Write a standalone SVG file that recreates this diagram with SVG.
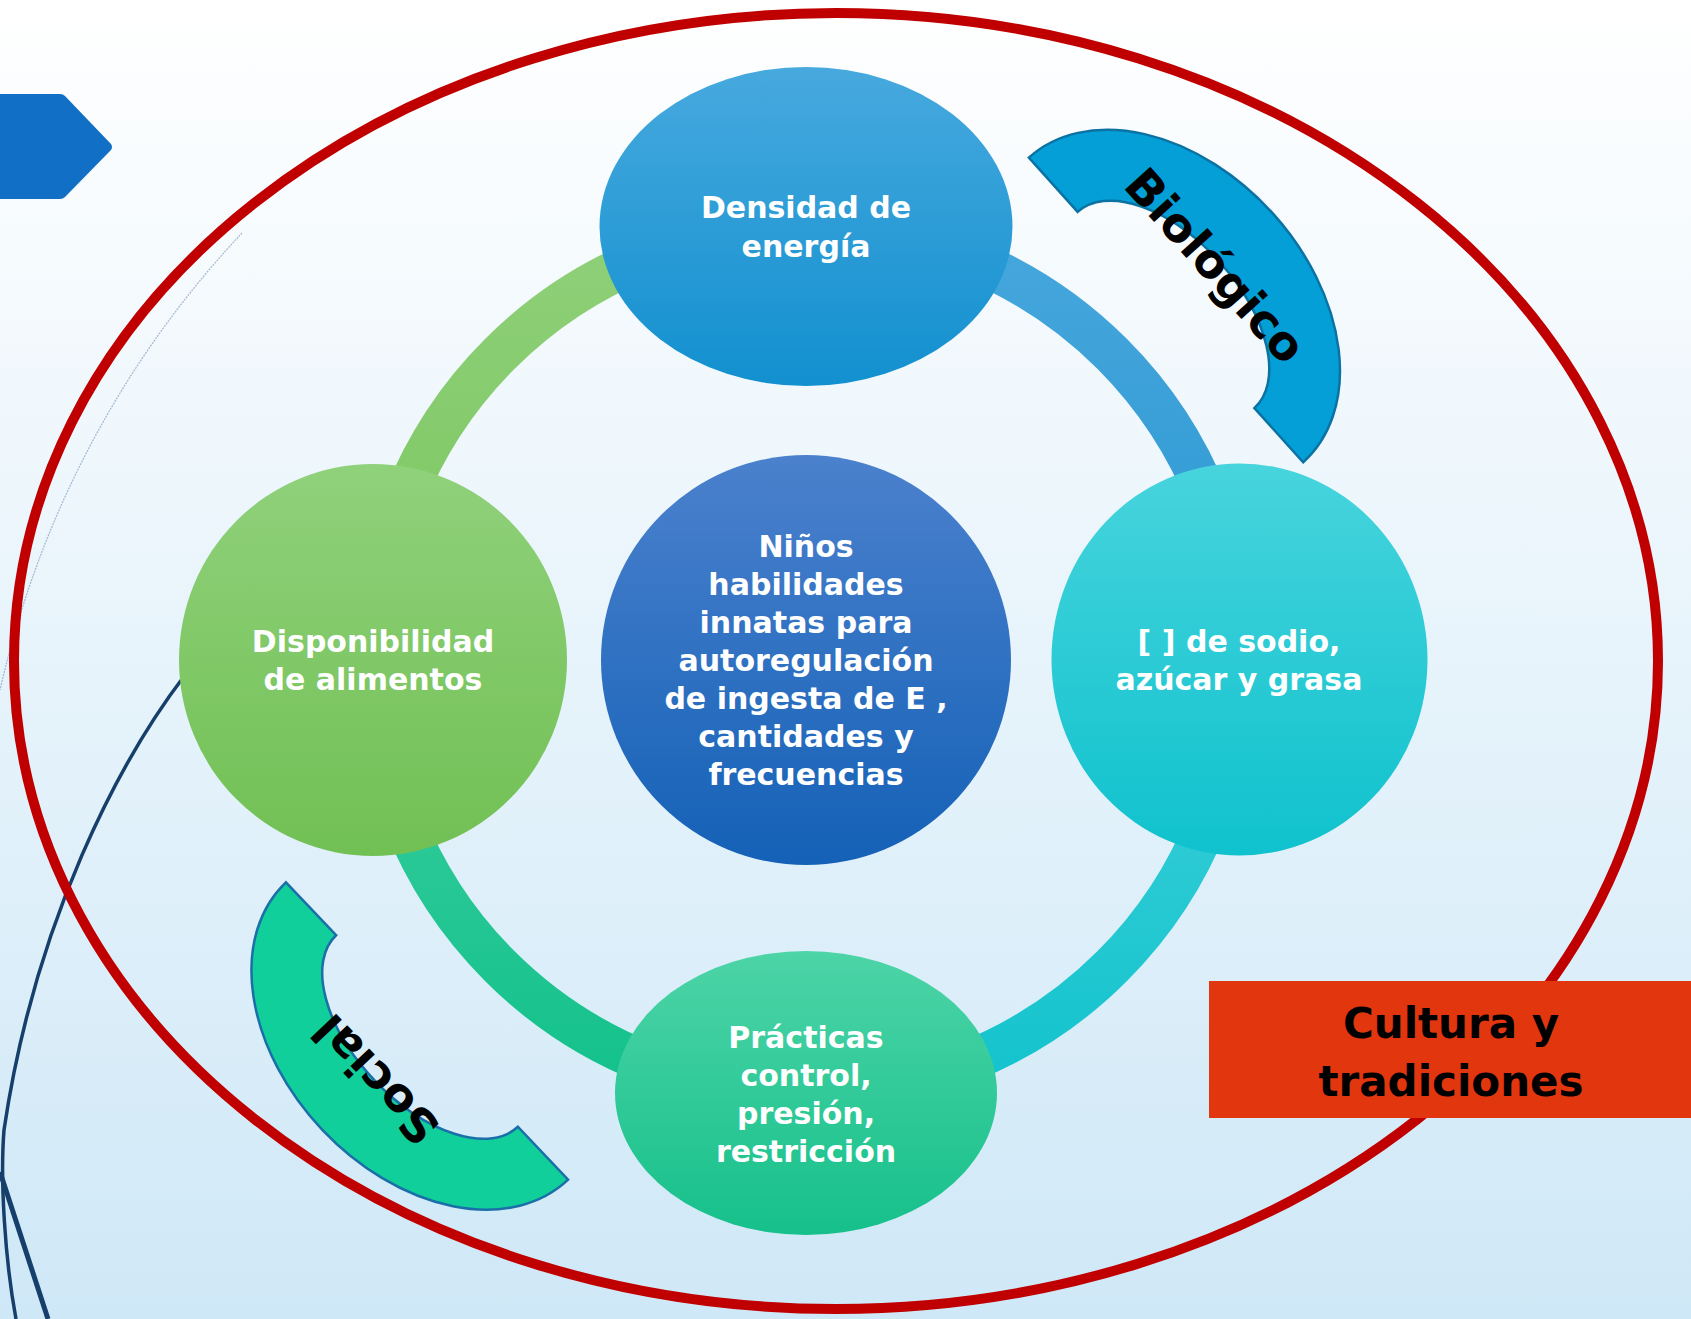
<svg xmlns="http://www.w3.org/2000/svg" width="1691" height="1319" viewBox="0 0 1691 1319">
<defs>
<linearGradient id="bg" x1="0" y1="0" x2="0" y2="1319" gradientUnits="userSpaceOnUse"><stop offset="0" stop-color="#FFFFFF"/><stop offset="1" stop-color="#CFE8F7"/></linearGradient>
<linearGradient id="gTop" x1="0" y1="67" x2="0" y2="386" gradientUnits="userSpaceOnUse"><stop offset="0" stop-color="#47A9DE"/><stop offset="1" stop-color="#1290CF"/></linearGradient>
<linearGradient id="gLeft" x1="0" y1="464" x2="0" y2="856" gradientUnits="userSpaceOnUse"><stop offset="0" stop-color="#90D17B"/><stop offset="1" stop-color="#71C054"/></linearGradient>
<linearGradient id="gRight" x1="0" y1="464" x2="0" y2="856" gradientUnits="userSpaceOnUse"><stop offset="0" stop-color="#47D4DD"/><stop offset="1" stop-color="#0FC2CD"/></linearGradient>
<linearGradient id="gBot" x1="0" y1="951" x2="0" y2="1235" gradientUnits="userSpaceOnUse"><stop offset="0" stop-color="#4DD4A7"/><stop offset="1" stop-color="#16C08A"/></linearGradient>
<linearGradient id="gCen" x1="0" y1="455" x2="0" y2="865" gradientUnits="userSpaceOnUse"><stop offset="0" stop-color="#4B81CD"/><stop offset="1" stop-color="#1461B7"/></linearGradient>
<linearGradient id="sGreen" x1="0" y1="227" x2="0" y2="660" gradientUnits="userSpaceOnUse"><stop offset="0" stop-color="#8FD079"/><stop offset="1" stop-color="#7AC65F"/></linearGradient>
<linearGradient id="sBlue" x1="0" y1="227" x2="0" y2="660" gradientUnits="userSpaceOnUse"><stop offset="0" stop-color="#46A7DC"/><stop offset="1" stop-color="#2C97D2"/></linearGradient>
<linearGradient id="sCyan" x1="0" y1="660" x2="0" y2="1093" gradientUnits="userSpaceOnUse"><stop offset="0" stop-color="#3FD0D9"/><stop offset="1" stop-color="#12C3CD"/></linearGradient>
<linearGradient id="sTeal" x1="0" y1="660" x2="0" y2="1093" gradientUnits="userSpaceOnUse"><stop offset="0" stop-color="#3ACE9E"/><stop offset="1" stop-color="#13C18B"/></linearGradient>
</defs>
<style>
.nt{font-family:"DejaVu Sans",sans-serif;font-weight:bold;font-size:30px;fill:#FFFFFF;text-anchor:middle}
.arcl{font-family:"DejaVu Sans",sans-serif;font-weight:bold;font-size:47px;fill:#000000;text-anchor:middle}
.ring{fill:none;stroke-width:42}
.deco{fill:none;stroke:#163F6B}
</style>
<rect x="0" y="0" width="1691" height="1319" fill="url(#bg)"/>
<g id="decor">
<path d="M0,94 L60,94 Q63,94 65,96 L111,144 Q113,147 111,150 L65,197 Q63,199 60,199 L0,199 Z" fill="#1170C5"/>
<path d="M242,233 C160,320 50,470 0,690" fill="none" stroke="#8FA8C4" stroke-width="1.2" stroke-dasharray="2 1" opacity="0.8"/>
<path class="deco" d="M185,675 C120,760 35,920 4,1130 C0,1180 5,1260 16,1319" stroke-width="3.5"/>
<path class="deco" d="M0,1172 L48,1319" stroke-width="5"/>
</g>
<g id="cultura-ellipse">
<ellipse cx="836" cy="661" rx="822" ry="648" fill="none" stroke="#C00000" stroke-width="10"/>
</g>
<g id="connectors">
<path class="ring" stroke="url(#sGreen)" d="M373,660 A433,433 0 0 1 806,227"/>
<path class="ring" stroke="url(#sBlue)" d="M806,227 A433,433 0 0 1 1239,660"/>
<path class="ring" stroke="url(#sCyan)" d="M1239,660 A433,433 0 0 1 806,1093"/>
<path class="ring" stroke="url(#sTeal)" d="M806,1093 A433,433 0 0 1 373,660"/>
</g>
<g id="node-densidad">
<ellipse cx="806" cy="226.5" rx="206.5" ry="159.5" fill="url(#gTop)"/>
<text class="nt" x="806" y="218">Densidad de</text>
<text class="nt" x="806" y="257">energía</text>
</g>
<g id="node-disponibilidad">
<ellipse cx="373" cy="660" rx="194" ry="196" fill="url(#gLeft)"/>
<text class="nt" x="373" y="652">Disponibilidad</text>
<text class="nt" x="373" y="690">de alimentos</text>
</g>
<g id="node-sodio">
<ellipse cx="1239.5" cy="659.5" rx="188" ry="196" fill="url(#gRight)"/>
<text class="nt" x="1239" y="652">[ ] de sodio,</text>
<text class="nt" x="1239" y="690">azúcar y grasa</text>
</g>
<g id="node-practicas">
<ellipse cx="806" cy="1093" rx="191" ry="142" fill="url(#gBot)"/>
<text class="nt" x="806" y="1048">Prácticas</text>
<text class="nt" x="806" y="1086">control,</text>
<text class="nt" x="806" y="1124">presión,</text>
<text class="nt" x="806" y="1162">restricción</text>
</g>
<g id="node-ninos">
<circle cx="806" cy="660" r="205" fill="url(#gCen)"/>
<text class="nt" x="806" y="557">Niños</text>
<text class="nt" x="806" y="595">habilidades</text>
<text class="nt" x="806" y="633">innatas para</text>
<text class="nt" x="806" y="671">autoregulación</text>
<text class="nt" x="806" y="709">de ingesta de E ,</text>
<text class="nt" x="806" y="747">cantidades y</text>
<text class="nt" x="806" y="785">frecuencias</text>
</g>
<g id="node-biologico" transform="translate(1166,310) rotate(48)">
<path d="M-205,0 A205,144 0 0 1 205,0 L132,0 A132,72 0 0 0 -132,0 Z" fill="#039FD6" stroke="#0B72A3" stroke-width="2.5"/>
<text class="arcl" x="0" y="-50">Biológico</text>
</g>
<g id="node-social" transform="translate(427,1031) rotate(46.5)">
<path d="M-205,0 A205,144 0 0 0 205,0 L132,0 A132,72 0 0 1 -132,0 Z" fill="#10CF9A" stroke="#1A6FA8" stroke-width="2.5"/>
<text class="arcl" transform="rotate(180)" x="0" y="-54">Social</text>
</g>
<g id="node-cultura">
<rect x="1209" y="981" width="482" height="137" fill="#E2360F"/>
<text class="arcl" x="1451" y="1038" style="font-size:42px">Cultura y</text>
<text class="arcl" x="1451" y="1096" style="font-size:42px">tradiciones</text>
</g>
</svg>
